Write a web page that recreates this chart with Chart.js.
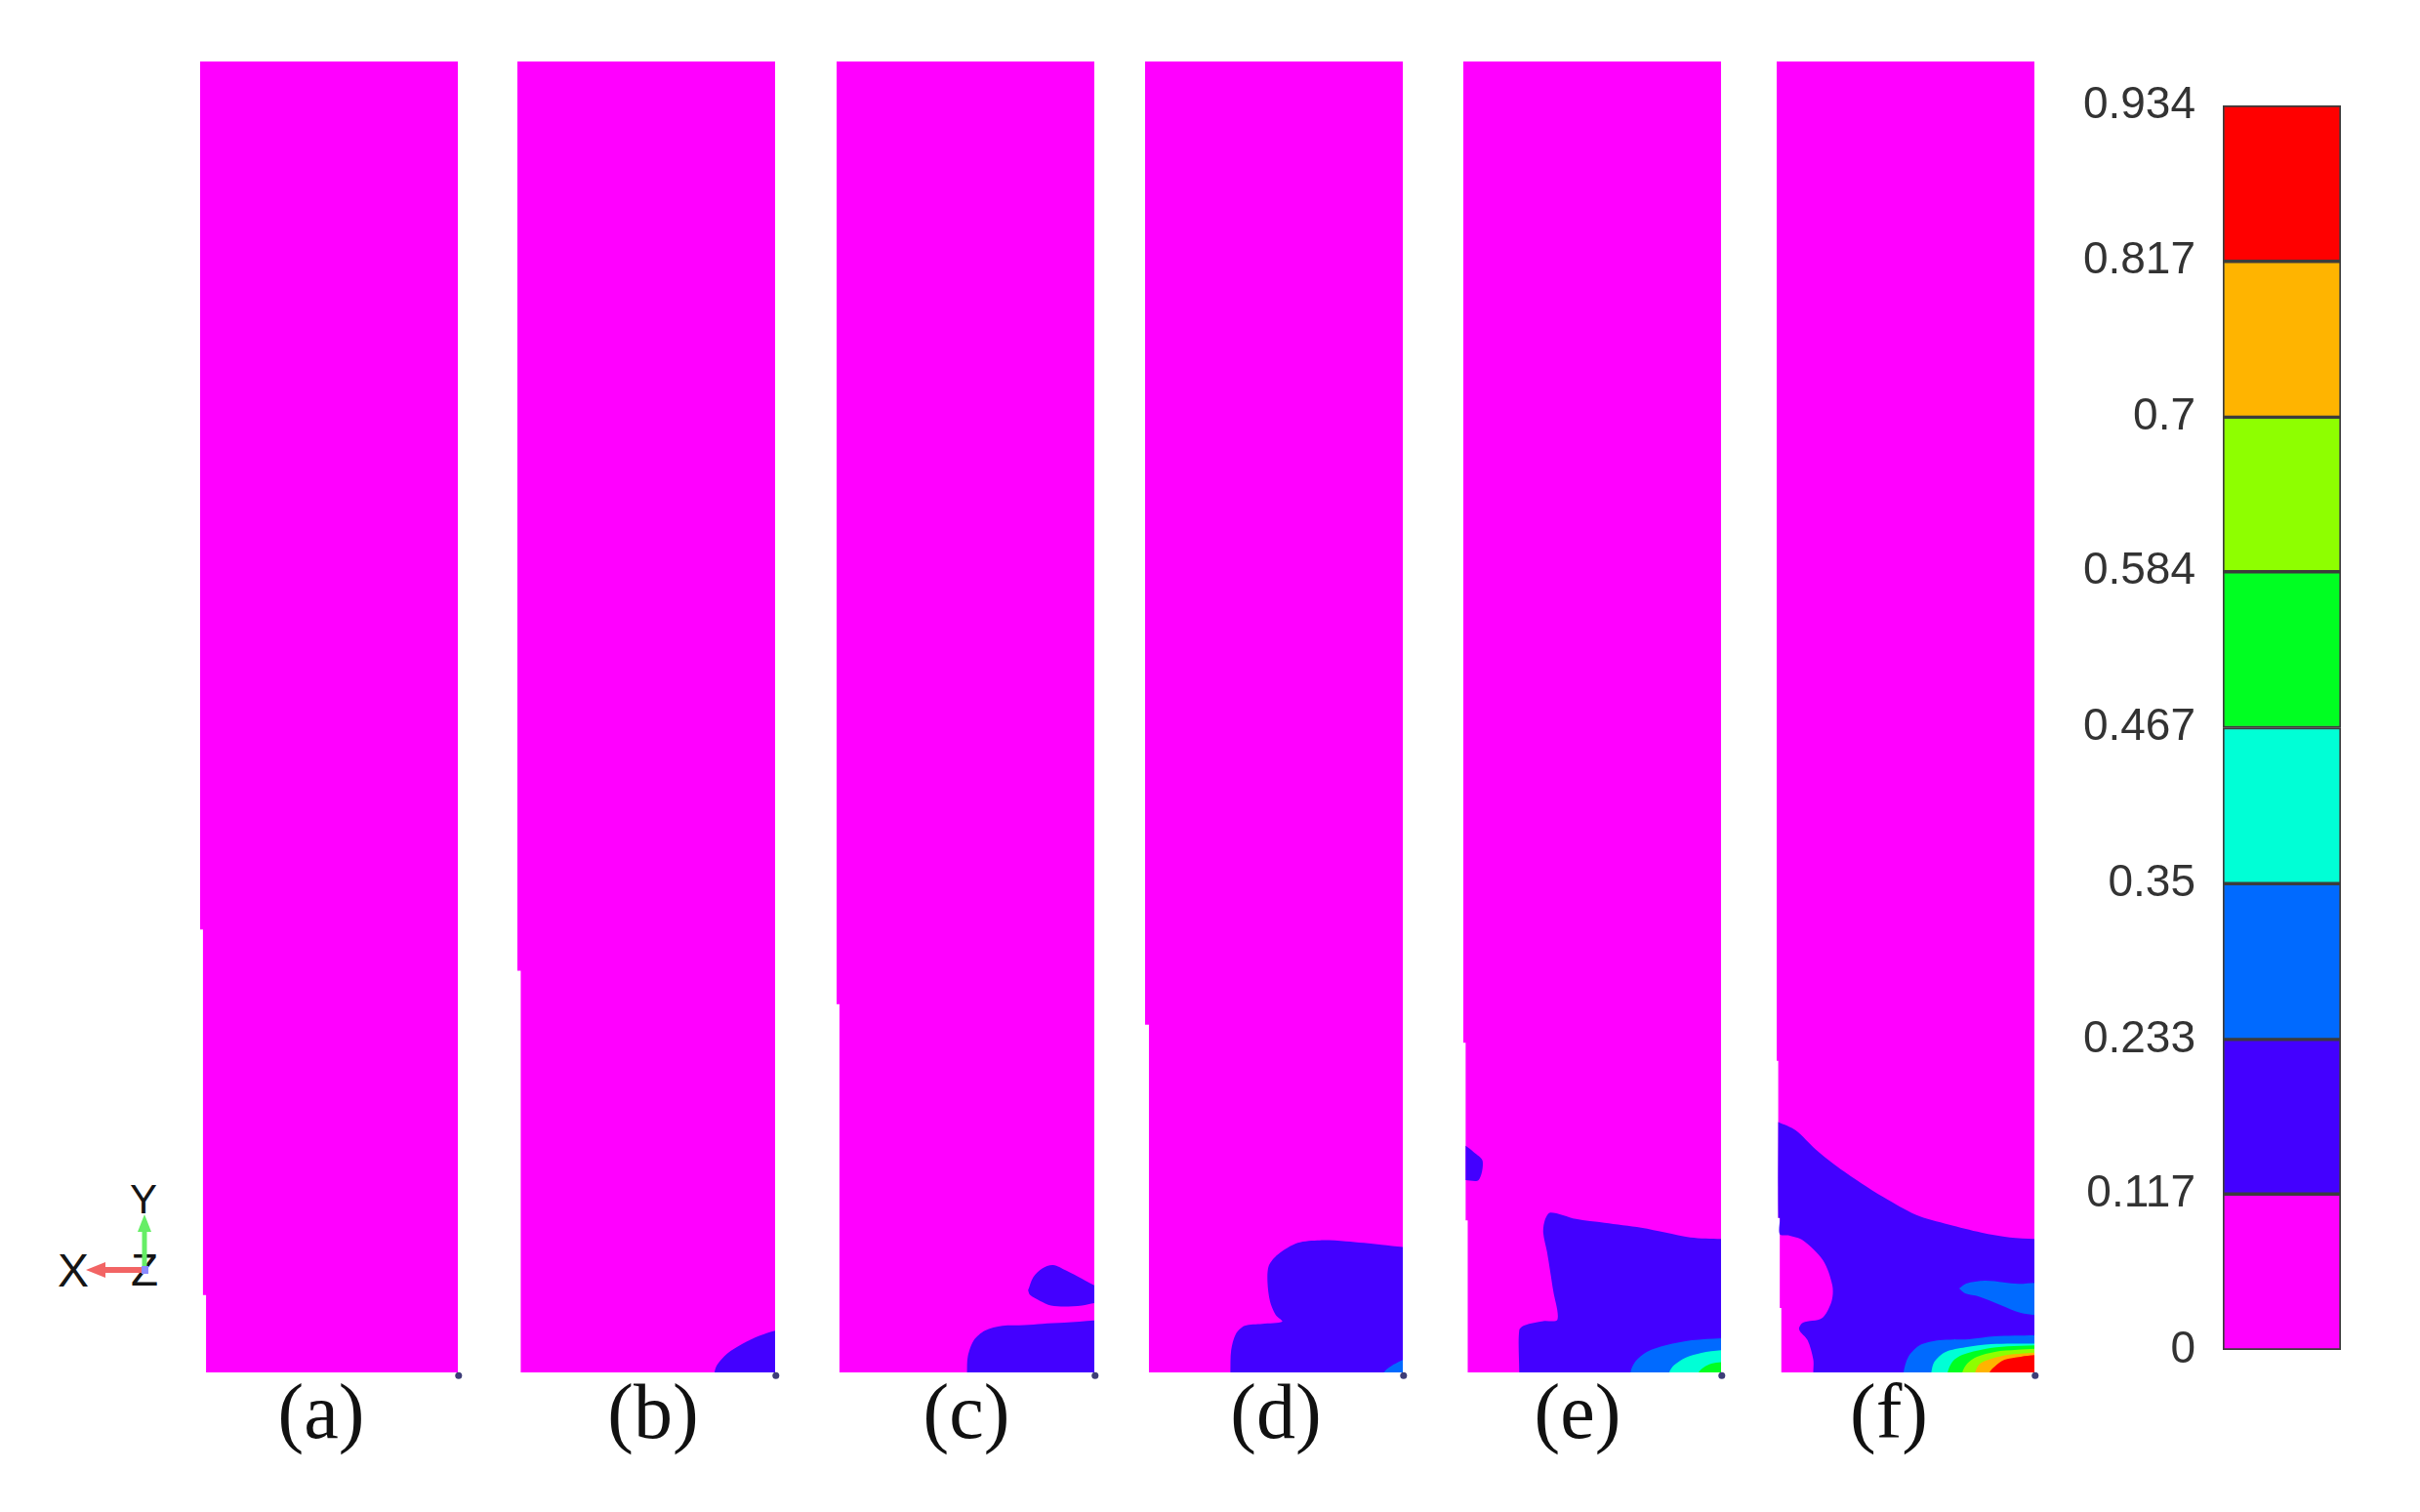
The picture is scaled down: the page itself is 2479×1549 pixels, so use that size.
<!DOCTYPE html>
<html><head><meta charset="utf-8">
<script src="https://cdn.jsdelivr.net/npm/chart.js@4.4.0/dist/chart.umd.min.js"></script>
<style>
html,body{margin:0;padding:0;background:#fff;}
#stage{position:relative;width:2479px;height:1549px;overflow:hidden;background:#fff;}
#stage canvas{position:absolute;}
.lbl{position:absolute;top:1406px;font-family:"Liberation Serif","Times New Roman",serif;font-size:80px;line-height:80px;color:#111;transform:translateX(-50%);white-space:nowrap;}
</style></head>
<body><div id="stage"></div>
<script>
// ---------------- data ----------------
const panelLabels = ['(a)', '(b)', '(c)', '(d)', '(e)', '(f)'];
const tickValues = [0, 0.117, 0.233, 0.35, 0.467, 0.584, 0.7, 0.817, 0.934];
const tickLabels = ['0', '0.117', '0.233', '0.35', '0.467', '0.584', '0.7', '0.817', '0.934'];
const levelColors = ['#ff00ff', '#4300ff', '#006aff', '#00ffd6', '#00ff22', '#8eff00', '#ffb400', '#ff0000'];

// contour boundaries: [x as % of panel width, height above panel bottom (panel = 509 units tall)]
const outlineA = [[0,509],[100,509],[100,0],[2.3,0],[2.3,30],[1.1,30],[1.1,172],[0,172]];
const outlineB = [[0,509],[100,509],[100,0],[1.3,0],[1.3,156],[0,156]];
const outlineC = [[0,509],[100,509],[100,0],[1.1,0],[1.1,143],[0,143]];
const outlineD = [[0,509],[100,509],[100,0],[1.5,0],[1.5,135],[0,135]];
const outlineE = [[0,509],[100,509],[100,0],[1.7,0],[1.7,59],[0.9,59],[0.9,128],[0,128]];
const outlineF = [[0,509],[100,509],[100,0],[1.8,0],[1.8,25],[1.2,25],[1.2,60],[0.6,60],[0.6,121],[0,121]];

const b1 = [[76.5,-3],[76.5,0],[77.5,2.9],[81.4,7.3],[87.3,11.1],[94.1,14.3],[100,16.2],[103,16.8],[103,-3]];

const c1Island = [[74.3,31.9],[76.3,37.0],[79.8,40.4],[84.0,41.7],[89.2,39.5],[95.2,36.4],[100,33.8],[103,33],[103,27],[100,26.9],[95.2,26.0],[88.3,25.6],[83.2,26.0],[78.9,27.8],[75.0,30.1],[74.3,31.9]];
const c1Base = [[50.6,-3],[50.6,0],[50.9,6.1],[53.2,12.4],[57.5,16.2],[64.3,18.1],[72.9,18.4],[79.8,18.9],[88.3,19.3],[100,20.2],[103,20.4],[103,-3]];

const d1 = [[33.1,-3],[33.1,0],[33.4,8.6],[35.2,14.9],[38.6,18.1],[45.5,18.9],[53.2,19.7],[50.6,22.5],[48.5,27.5],[47.5,35.1],[48.0,41.4],[51.5,45.8],[59.2,50.3],[67.8,51.3],[78.0,50.9],[91.8,49.6],[100,48.7],[103,48.5],[103,-3]];
const d2 = [[92.6,-3],[92.6,0],[95.2,2.3],[97.8,3.8],[100,4.8],[103,5.5],[103,-3]];

const e1Blob = [[0.9,88],[4.0,85.6],[7.5,82.1],[5.9,74.7],[0.9,74.7]];
const e1Base = [[21.7,-3],[21.7,0],[21.7,16.4],[23.8,18.3],[31.0,19.9],[36.5,20.5],[34.9,31.6],[32.5,46.7],[31.0,54.3],[31.7,59.3],[33.8,62.1],[43.7,59.6],[54.8,58.1],[69.0,56.2],[78.6,54.3],[88.1,52.4],[100,51.8],[103,51.8],[103,-3]];
const e2 = [[64.8,-3],[64.8,0],[66.7,4.2],[71.2,8.0],[78.8,10.6],[88.6,12.5],[100,13.3],[103,13.5],[103,-3]];
const e3 = [[79.9,-3],[79.9,0],[81.8,2.8],[86.4,5.8],[92.4,7.6],[100,8.6],[103,8.8],[103,-3]];
const e4 = [[91.3,-3],[91.3,0],[93.2,1.9],[96.2,3.4],[100,4.0],[103,4.2],[103,-3]];

const f1 = [[0.6,97.2],[7.4,94.0],[15.0,86.7],[22.5,80.6],[32.7,73.5],[41.5,68.0],[54.0,61.2],[66.7,57.4],[79.4,54.3],[90.5,52.4],[100,51.8],[103,51.8],[103,-3],[14.2,-3],[14.2,0],[14.2,5.0],[12.0,12.5],[8.7,16.7],[10.2,19.3],[17.5,21.0],[21.3,27.6],[21.6,33.8],[18.0,43.5],[10.2,51.3],[4.8,53.2],[1.2,53.6],[1.2,60],[0.6,60],[0.6,97.2]];
const f2Island = [[70.8,32.6],[73.5,34.5],[80.7,35.6],[88.0,35.0],[94.0,34.4],[100,34.8],[103,34.8],[103,22],[100,22.3],[94.7,23.1],[87.1,26.1],[78.4,29.5],[73.1,30.7],[70.8,32.6]];
const f2Base = [[49.2,-3],[49.2,0],[51.1,6.1],[55.6,10.6],[63.1,12.5],[74.6,12.9],[84.5,14.0],[100,14.4],[103,14.4],[103,-3]];
const f3 = [[60.0,-3],[60.0,0],[61.2,4.2],[65.6,8.0],[73.2,9.8],[83.3,11.0],[100,11.2],[103,11.2],[103,-3]];
const f4 = [[66.3,-3],[66.3,0],[68.2,4.2],[72.0,6.8],[80.8,9.1],[89.6,10.1],[100,10.5],[103,10.5],[103,-3]];
const f5 = [[72.0,-3],[72.0,0],[73.9,3.4],[77.7,6.1],[84.6,8.0],[93.4,8.8],[100,9.2],[103,9.2],[103,-3]];
const f6 = [[77.0,-3],[77.0,0],[78.9,3.4],[83.3,5.3],[89.6,6.8],[100,7.7],[103,7.7],[103,-3]];
const f7 = [[82.6,-3],[82.6,0],[84.6,2.3],[88.4,4.9],[94.7,6.1],[100,6.7],[103,6.7],[103,-3]];

// which regions (level, polygon) belong to each panel
const panelOutlines = [outlineA, outlineB, outlineC, outlineD, outlineE, outlineF];
const panelRegions = [
  [],
  [[1, b1]],
  [[1, c1Island], [1, c1Base]],
  [[1, d1], [2, d2]],
  [[1, e1Blob], [1, e1Base], [2, e2], [3, e3], [4, e4]],
  [[1, f1], [2, f2Island], [2, f2Base], [3, f3], [4, f4], [5, f5], [6, f6], [7, f7]]
];

// ---------------- layout (not data) ----------------
const PANEL_LEFT = [205, 530, 857, 1173, 1499, 1820];
const PANEL_TOP = 63, PANEL_W = 264, PANEL_H = 1343, PAD = 10;
const LABEL_X = [329, 669, 990, 1307, 1616, 1935];
const stage = document.getElementById('stage');

function poly(points, color, order, tension) {
  return {
    data: points.map(p => ({x: p[0], y: p[1]})),
    backgroundColor: color, borderColor: color, borderWidth: 0,
    pointRadius: 0, fill: 'shape', tension: tension, order: order
  };
}

panelOutlines.forEach((outline, i) => {
  const cv = document.createElement('canvas');
  cv.width = PANEL_W + 2 * PAD; cv.height = PANEL_H + 2 * PAD;
  cv.style.left = (PANEL_LEFT[i] - PAD) + 'px';
  cv.style.top = (PANEL_TOP - PAD) + 'px';
  cv.style.width = cv.width + 'px'; cv.style.height = cv.height + 'px';
  stage.appendChild(cv);
  const datasets = [poly(outline, levelColors[0], 100, 0)];
  panelRegions[i].forEach(([lvl, pts], k) => datasets.push(poly(pts, levelColors[lvl], 90 - lvl * 10 - k * 0.01, 0.3)));
  datasets.push({data: [{x: 100.3, y: -1.2}], showLine: false, pointRadius: 3.5, pointBorderWidth: 0,
                 pointBackgroundColor: '#3d3d78', backgroundColor: '#3d3d78', clip: false, order: 0});
  new Chart(cv, {
    type: 'line',
    data: {datasets},
    options: {
      responsive: false, animation: false, devicePixelRatio: 1,
      layout: {padding: PAD},
      elements: {line: {capBezierPoints: false}},
      plugins: {legend: {display: false}, tooltip: {enabled: false}},
      scales: {
        x: {type: 'linear', min: 0, max: 100, display: false},
        y: {type: 'linear', min: 0, max: 509, display: false}
      }
    }
  });
  const lb = document.createElement('div');
  lb.className = 'lbl'; lb.style.left = LABEL_X[i] + 'px'; lb.textContent = panelLabels[i];
  stage.appendChild(lb);
});

// colour bar (chart area: x 2277-2398, y 108-1383)
const CB_PAD = 60;
const cb = document.createElement('canvas');
cb.width = 305; cb.height = 1275 + 2 * CB_PAD;
cb.style.left = '2097px'; cb.style.top = (108 - CB_PAD) + 'px';
cb.style.width = cb.width + 'px'; cb.style.height = cb.height + 'px';
stage.appendChild(cb);
new Chart(cb, {
  type: 'bar',
  data: {
    labels: [''],
    datasets: levelColors.map((c, i) => ({
      data: [tickValues[i + 1] - tickValues[i]], backgroundColor: c,
      borderColor: '#3c3c3c', borderWidth: 2, borderSkipped: false,
      barPercentage: 1, categoryPercentage: 1
    }))
  },
  options: {
    responsive: false, animation: false, devicePixelRatio: 1,
    layout: {padding: {top: CB_PAD, bottom: CB_PAD, left: 0, right: 4}},
    plugins: {legend: {display: false}, tooltip: {enabled: false}},
    scales: {
      x: {display: false, stacked: true},
      y: {
        stacked: true, min: 0, max: 0.934,
        grid: {display: false}, border: {display: false},
        afterFit: s => { s.width = 180; },
        afterBuildTicks: s => { s.ticks = tickValues.map(v => ({value: v})); },
        ticks: {padding: 20, autoSkip: false, color: '#333',
                font: {family: 'Liberation Sans', size: 46},
                callback: (v, i) => tickLabels[i]}
      }
    }
  }
});

// axis triad
stage.insertAdjacentHTML('beforeend',
 '<svg style="position:absolute;left:40px;top:1180px" width="150" height="150">' +
 '<g font-family="Liberation Sans, DejaVu Sans, sans-serif" fill="#151515" text-anchor="middle">' +
 '<text x="108" y="137" font-size="46">Z</text>' +
 '<text x="107" y="63" font-size="42">Y</text>' +
 '<text x="35" y="138" font-size="48">X</text></g>' +
 '<line x1="108" y1="119" x2="108" y2="78" stroke="#66ee66" stroke-width="5"/>' +
 '<polygon points="108,64 101,82 115,82" fill="#66ee66"/>' +
 '<line x1="106" y1="121" x2="64" y2="121" stroke="#f26464" stroke-width="6"/>' +
 '<polygon points="48,121 68,113 68,129" fill="#f26464"/>' +
 '<rect x="105" y="117" width="7" height="8" fill="#8a8aff"/>' +
 '</svg>');
</script>
</body></html>
